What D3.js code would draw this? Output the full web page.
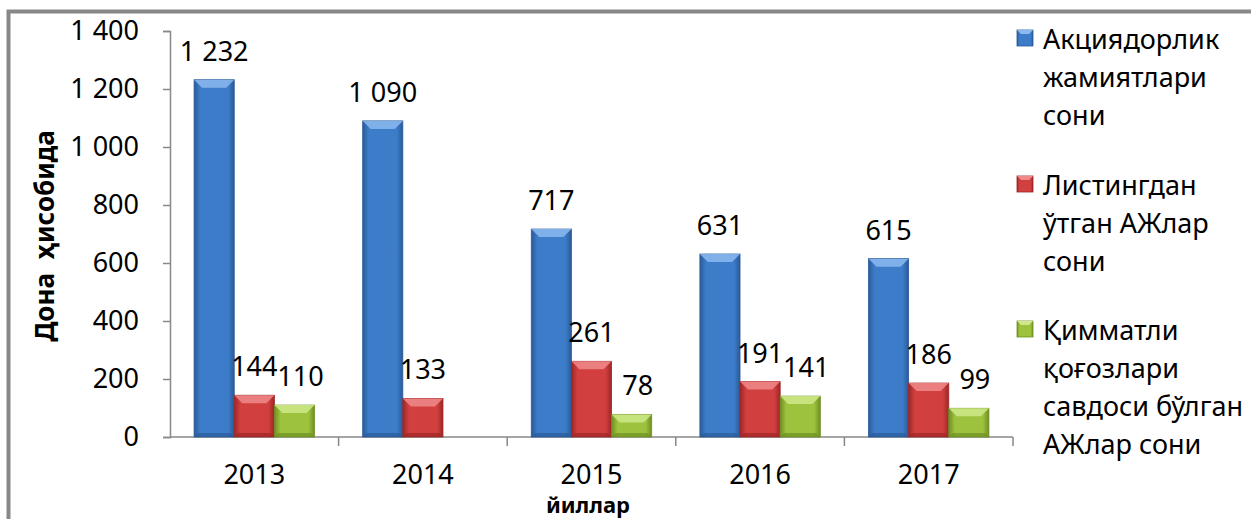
<!DOCTYPE html>
<html>
<head>
<meta charset="utf-8">
<script src="https://cdn.jsdelivr.net/npm/d3@7"></script>
<style>
  body { margin: 0; background: #fff; }
  text { font-family: "Noto Sans", "Open Sans", sans-serif; fill: #000; }
</style>
</head>
<body>
<div id="chart"></div>
<script>
var years = ["2013", "2014", "2015", "2016", "2017"];
var seriesNames = [
  ["Акциядорлик", "жамиятлари", "сони"],
  ["Листингдан", "ўтган АЖлар", "сони"],
  ["Қимматли", "қоғозлари", "савдоси бўлган", "АЖлар сони"]
];
var jointStock = [1232, 1090, 717, 631, 615];
var listed = [144, 133, 261, 191, 186];
var traded = [110, null, 78, 141, 99];
var yTicks = [0, 200, 400, 600, 800, 1000, 1200, 1400];

var colors = [
  {main: "#3c7cc9", light: "#8cbaf0", dark: "#2a5a98"},
  {main: "#d23f3f", light: "#f08a8a", dark: "#9c2626"},
  {main: "#9cc23e", light: "#cfe98a", dark: "#6f8f22"}
];

var W = 1251, H = 519;
var svg = d3.select("#chart").append("svg")
    .attr("width", W)
    .attr("height", H);

// outer border (chart area frame)
svg.append("path")
    .attr("d", "M8.5,519 L8.5,11.5 L1251,11.5")
    .attr("fill", "none")
    .attr("stroke", "#888")
    .attr("stroke-width", 4);

var defs = svg.append("defs");
colors.forEach(function(c, i) {
  var g = defs.append("linearGradient").attr("id", "grad" + i)
      .attr("x1", "0").attr("x2", "1").attr("y1", "0").attr("y2", "0");
  g.append("stop").attr("offset", "0%").attr("stop-color", c.dark);
  g.append("stop").attr("offset", "15%").attr("stop-color", c.main);
  g.append("stop").attr("offset", "85%").attr("stop-color", c.main);
  g.append("stop").attr("offset", "100%").attr("stop-color", c.dark);
});

var x0 = d3.scaleBand().domain(years).range([170, 1013]).padding(0);
var x1 = d3.scaleBand().domain([0, 1, 2]).range([0, x0.bandwidth()])
    .paddingInner(0).paddingOuter(0.6);
var y = d3.scaleLinear().domain([0, 1400]).range([437, 31]);

var fmt = d3.formatLocale({decimal: ",", thousands: "\u00a0", grouping: [3], currency: ["", ""]}).format(",d");

// y axis
var yAxis = svg.append("g")
    .attr("transform", "translate(170,0)")
    .call(d3.axisLeft(y).tickValues(yTicks).tickSize(7).tickPadding(24).tickFormat(fmt));
yAxis.select(".domain").attr("stroke", "#888").attr("stroke-width", 1.5);
yAxis.selectAll(".tick line").attr("stroke", "#888").attr("stroke-width", 1.5);
yAxis.selectAll(".tick text").style("font-size", "27px").attr("fill", "#000");

// x axis line and boundary ticks
svg.append("line")
    .attr("x1", 170).attr("x2", 1013)
    .attr("y1", y(0)).attr("y2", y(0))
    .attr("stroke", "#888").attr("stroke-width", 1.5);
var bounds = years.map(function(d) { return x0(d); }).concat([x0(years[years.length - 1]) + x0.bandwidth()]);
svg.selectAll(".xtick").data(bounds.slice(1)).enter().append("line")
    .attr("x1", function(d) { return d; }).attr("x2", function(d) { return d; })
    .attr("y1", y(0)).attr("y2", y(0) + 9)
    .attr("stroke", "#888").attr("stroke-width", 1.5);
svg.selectAll(".xlabel").data(years).enter().append("text")
    .attr("x", function(d) { return x0(d) + x0.bandwidth() / 2; })
    .attr("y", 484)
    .attr("text-anchor", "middle")
    .style("font-size", "27px")
    .text(function(d) { return d; });

// bars
var allSeries = [jointStock, listed, traded];
var barData = [];
allSeries.forEach(function(vals, s) {
  vals.forEach(function(v, i) {
    if (v != null) barData.push({year: years[i], s: s, v: v});
  });
});

var bars = svg.selectAll(".bar").data(barData).enter().append("g");
bars.append("rect")
    .attr("x", function(d) { return x0(d.year) + x1(d.s); })
    .attr("y", function(d) { return y(d.v); })
    .attr("width", x1.bandwidth())
    .attr("height", function(d) { return y(0) - y(d.v); })
    .attr("fill", function(d) { return "url(#grad" + d.s + ")"; })
    .attr("stroke", function(d) { return colors[d.s].dark; })
    .attr("stroke-width", 0.8);
// top bevel
bars.append("path")
    .attr("d", function(d) {
      var xl = x0(d.year) + x1(d.s), xr = xl + x1.bandwidth(), yt = y(d.v);
      var b = Math.min(8, (y(0) - yt) / 2);
      return "M" + xl + "," + yt + "L" + xr + "," + yt + "L" + (xr - b) + "," + (yt + b) +
        "L" + (xl + b) + "," + (yt + b) + "Z";
    })
    .attr("fill", function(d) { return colors[d.s].light; })
    .attr("opacity", 0.85);
// bottom shade
bars.append("path")
    .attr("d", function(d) {
      var xl = x0(d.year) + x1(d.s), xr = xl + x1.bandwidth(), yb = y(0);
      var b = Math.min(4, (yb - y(d.v)) / 2);
      return "M" + xl + "," + yb + "L" + xr + "," + yb + "L" + (xr - b) + "," + (yb - b) +
        "L" + (xl + b) + "," + (yb - b) + "Z";
    })
    .attr("fill", function(d) { return colors[d.s].dark; })
    .attr("opacity", 0.7);

// value labels
svg.selectAll(".val").data(barData).enter().append("text")
    .attr("x", function(d) { return x0(d.year) + x1(d.s) + x1.bandwidth() / 2 + (d.s == 2 ? 6 : 0); })
    .attr("y", function(d) { return y(d.v) - 19; })
    .attr("text-anchor", "middle")
    .style("font-size", "27px")
    .text(function(d) { return fmt(d.v); });

// axis titles
svg.append("text")
    .attr("x", 588).attr("y", 513)
    .attr("text-anchor", "middle")
    .style("font-size", "22px").style("font-weight", "bold")
    .text("йиллар");
svg.append("text")
    .attr("transform", "translate(54,236) rotate(-90)")
    .attr("text-anchor", "middle")
    .style("font-size", "26px").style("font-weight", "bold")
    .attr("xml:space", "preserve")
    .text("Дона  ҳисобида");

// legend
var legendStart = [49, 195, 340];
var lineH = 38;
var leg = svg.selectAll(".leg").data(seriesNames).enter().append("g");
leg.append("rect")
    .attr("x", 1017).attr("y", function(d, i) { return legendStart[i] - 19; })
    .attr("width", 16).attr("height", 16)
    .attr("fill", function(d, i) { return "url(#grad" + i + ")"; })
    .attr("stroke", function(d, i) { return colors[i].dark; })
    .attr("stroke-width", 0.8);
leg.append("path")
    .attr("d", function(d, i) {
      var yt = legendStart[i] - 19;
      return "M1017," + yt + "L1033," + yt + "L1029," + (yt + 4) + "L1021," + (yt + 4) + "Z";
    })
    .attr("fill", function(d, i) { return colors[i].light; });
leg.append("text")
    .attr("x", 1043)
    .attr("y", function(d, i) { return legendStart[i]; })
    .style("font-size", "27px")
    .selectAll("tspan").data(function(d) { return d; }).enter().append("tspan")
    .attr("x", 1043)
    .attr("dy", function(d, j) { return j == 0 ? 0 : lineH; })
    .text(function(d) { return d; });
</script>
</body>
</html>
